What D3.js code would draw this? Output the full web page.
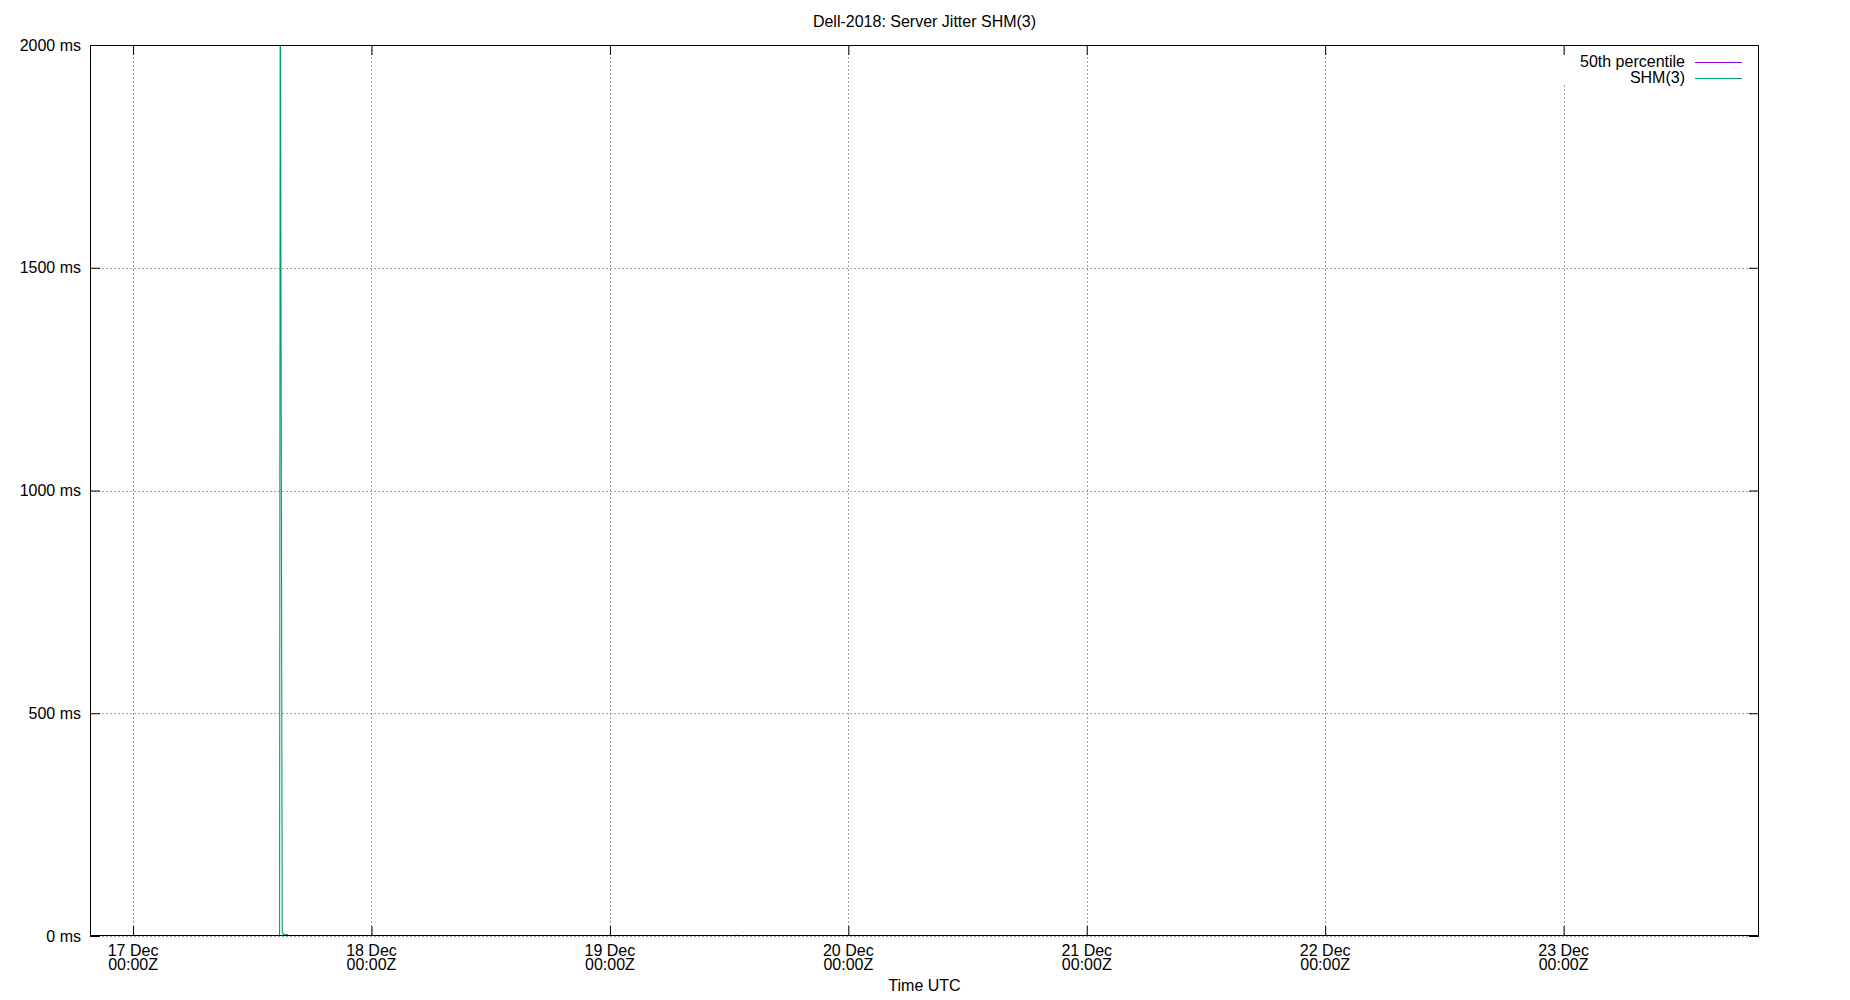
<!DOCTYPE html>
<html><head><meta charset="utf-8">
<script src="https://cdn.jsdelivr.net/npm/d3@7"></script>
<style>
body{margin:0;background:#fff}
text{font-family:"Liberation Sans",Arial,sans-serif;font-size:16px;fill:#000}
</style>
</head><body>
<svg id="c" width="1850" height="1000"></svg>
<script>
// ---- data ----
const title = "Dell-2018: Server Jitter SHM(3)";
const xAxisLabel = "Time UTC";
const xDomain = ["2018-12-16T19:40:00Z", "2018-12-23T19:40:00Z"];
const yDomain = [0, 2000];
const xTickDates = ["2018-12-17T00:00:00Z","2018-12-18T00:00:00Z","2018-12-19T00:00:00Z","2018-12-20T00:00:00Z","2018-12-21T00:00:00Z","2018-12-22T00:00:00Z","2018-12-23T00:00:00Z"];
const xTickDay = ["17 Dec","18 Dec","19 Dec","20 Dec","21 Dec","22 Dec","23 Dec"];
const xTickTime = ["00:00Z","00:00Z","00:00Z","00:00Z","00:00Z","00:00Z","00:00Z"];
const yTicks = [0, 500, 1000, 1500, 2000];
const yTickLabels = ["0 ms","500 ms","1000 ms","1500 ms","2000 ms"];
const seriesNames = ["50th percentile", "SHM(3)"];
const p50Times = ["2018-12-16T19:40:00Z", "2018-12-23T19:40:00Z"];
const p50Values = [0, 0];
const shmTimes = ["2018-12-16T19:40:00Z","2018-12-17T14:40:00Z","2018-12-17T14:45:00Z","2018-12-17T14:49:00Z","2018-12-17T15:01:00Z","2018-12-17T15:09:00Z","2018-12-17T15:31:00Z","2018-12-17T15:38:00Z","2018-12-19T12:25:00Z","2018-12-19T12:32:00Z","2018-12-19T12:56:00Z","2018-12-19T13:03:00Z","2018-12-23T19:40:00Z"];
const shmValues = [0, 0, 0, 2300, 10, 3, 3, 0, 0, 1.5, 1.5, 0, 0];

// ---- styles / layout ----
const colors = ["#9400d3", "#009e73"];
const L = 90, R = 1759, T = 45, B = 936;

const svg = d3.select("#c");
const x = d3.scaleUtc().domain(xDomain.map(d => new Date(d))).range([L, R]);
const y = d3.scaleLinear().domain(yDomain).range([B, T]);
const px = v => Math.round(v) + 0.5;

// grid
const grid = svg.append("g").attr("stroke", "#a0a0a0").attr("stroke-width", 1).attr("stroke-dasharray", "2,2").attr("fill", "none");
xTickDates.forEach(d => {
  const xx = px(x(new Date(d)));
  grid.append("line").attr("x1", xx).attr("x2", xx).attr("y1", T).attr("y2", B);
});
yTicks.forEach(v => {
  const yy = px(y(v));
  grid.append("line").attr("x1", L).attr("x2", R).attr("y1", yy).attr("y2", yy);
});

// clip
svg.append("clipPath").attr("id", "clip").append("rect").attr("x", L).attr("y", T).attr("width", R - L).attr("height", B - T);

const line = d3.line().x(d => x(d[0])).y(d => y(d[1]));
const plot = svg.append("g").attr("clip-path", "url(#clip)");
plot.append("path").datum(p50Times.map((t, i) => [new Date(t), p50Values[i]]))
  .attr("d", line).attr("fill", "none").attr("stroke", colors[0]).attr("stroke-width", 1);
plot.append("path").datum(shmTimes.map((t, i) => [new Date(t), shmValues[i]]))
  .attr("d", line).attr("fill", "none").attr("stroke", colors[1]).attr("stroke-width", 1.1);

// legend
svg.append("rect").attr("x", 1556).attr("y", 54).attr("width", 196).attr("height", 31).attr("fill", "#fff");
seriesNames.forEach((n, i) => {
  const cy = 62 + i * 15.5;
  svg.append("text").attr("x", 1685).attr("y", cy + 5).attr("text-anchor", "end").text(n);
  svg.append("line").attr("x1", 1695).attr("x2", 1742).attr("y1", px(cy)).attr("y2", px(cy))
    .attr("stroke", colors[i]).attr("stroke-width", 1);
});

// border
svg.append("rect").attr("x", L + 0.5).attr("y", T + 0.5).attr("width", R - L - 1).attr("height", B - T - 1)
  .attr("fill", "none").attr("stroke", "#000").attr("stroke-width", 1);

// axes (ticks pointing inward)
const xb = svg.append("g").attr("transform", `translate(0,${B})`)
  .call(d3.axisBottom(x).tickValues(xTickDates.map(d => new Date(d))).tickSize(-10).tickFormat(""));
const xt = svg.append("g").attr("transform", `translate(0,${T})`)
  .call(d3.axisTop(x).tickValues(xTickDates.map(d => new Date(d))).tickSize(-10).tickFormat(""));
const yl = svg.append("g").attr("transform", `translate(${L},0)`)
  .call(d3.axisLeft(y).tickValues(yTicks).tickSize(-10).tickFormat(""));
const yr = svg.append("g").attr("transform", `translate(${R},0)`)
  .call(d3.axisRight(y).tickValues(yTicks).tickSize(-10).tickFormat(""));
[xb, xt, yl, yr].forEach(g => { g.select(".domain").remove(); g.selectAll("line").attr("stroke", "#000"); });

// tick labels
xTickDates.forEach((d, i) => {
  const xx = x(new Date(d));
  svg.append("text").attr("x", xx).attr("y", 956).attr("text-anchor", "middle").text(xTickDay[i]);
  svg.append("text").attr("x", xx).attr("y", 970).attr("text-anchor", "middle").text(xTickTime[i]);
});
yTicks.forEach((v, i) => {
  svg.append("text").attr("x", 81).attr("y", y(v) + 5.5).attr("text-anchor", "end").text(yTickLabels[i]);
});

// titles
svg.append("text").attr("x", (L + R) / 2).attr("y", 27).attr("text-anchor", "middle").text(title);
svg.append("text").attr("x", (L + R) / 2).attr("y", 991).attr("text-anchor", "middle").text(xAxisLabel);
</script>
</body></html>
